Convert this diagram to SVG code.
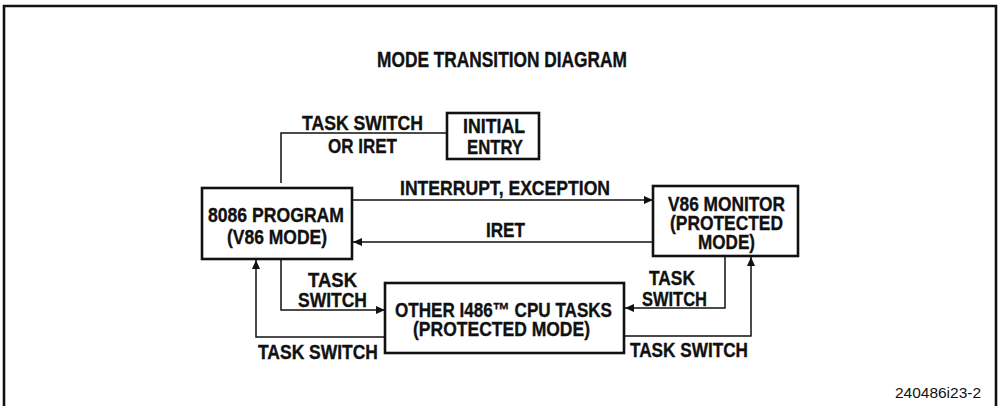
<svg xmlns="http://www.w3.org/2000/svg" width="998" height="406" viewBox="0 0 998 406">
<style>
.box{fill:#fff;stroke:#111;stroke-width:2.6}
.ln{fill:none;stroke:#111;stroke-width:1.5}
.t{font-family:"Liberation Sans",Arial,sans-serif;font-weight:bold;font-size:20px;fill:#111;stroke:#111;stroke-width:0.35;text-anchor:middle}
.n{font-family:"Liberation Sans",Arial,sans-serif;font-size:15px;fill:#111;text-anchor:middle}
</style>
<defs>
<marker id="ah" markerUnits="userSpaceOnUse" markerWidth="10" markerHeight="8" refX="9" refY="4" orient="auto">
<path d="M0,0 L9,4 L0,8 z" fill="#111"/>
</marker>
</defs>
<rect width="998" height="406" fill="#fff"/>
<path d="M4,410 V6 H996 V410" fill="none" stroke="#111" stroke-width="2.6"/>
<text class="t" x="502" y="67" style="font-size:21.5px" textLength="250" lengthAdjust="spacingAndGlyphs">MODE TRANSITION DIAGRAM</text>

<g id="connectors">
<path class="ln" d="M447,133 H281 V183"/>
<path class="ln" d="M352,200 H653" marker-end="url(#ah)"/>
<path class="ln" d="M653,242 H353" marker-end="url(#ah)"/>
<path class="ln" d="M281,259 V310 H385" marker-end="url(#ah)"/>
<path class="ln" d="M385,337 H256 V260" marker-end="url(#ah)"/>
<path class="ln" d="M725,256 V308 H625" marker-end="url(#ah)"/>
<path class="ln" d="M624,336 H751 V257" marker-end="url(#ah)"/>
<text class="t" x="362.5" y="130" textLength="121" lengthAdjust="spacingAndGlyphs">TASK SWITCH</text>
<text class="t" x="362.5" y="153" textLength="69" lengthAdjust="spacingAndGlyphs">OR IRET</text>
<text class="t" x="505" y="195" textLength="210" lengthAdjust="spacingAndGlyphs">INTERRUPT, EXCEPTION</text>
<text class="t" x="505.5" y="237" textLength="39" lengthAdjust="spacingAndGlyphs">IRET</text>
<text class="t" x="332.5" y="287" textLength="49" lengthAdjust="spacingAndGlyphs">TASK</text>
<text class="t" x="332.5" y="307" textLength="69" lengthAdjust="spacingAndGlyphs">SWITCH</text>
<text class="t" x="318" y="359" textLength="120" lengthAdjust="spacingAndGlyphs">TASK SWITCH</text>
<text class="t" x="672" y="285" textLength="46" lengthAdjust="spacingAndGlyphs">TASK</text>
<text class="t" x="674.5" y="306" textLength="65" lengthAdjust="spacingAndGlyphs">SWITCH</text>
<text class="t" x="689" y="357" textLength="118" lengthAdjust="spacingAndGlyphs">TASK SWITCH</text>
</g>

<g id="initial-entry">
<rect class="box" x="447" y="113" width="92" height="46"/>
<text class="t" x="494" y="133" textLength="62" lengthAdjust="spacingAndGlyphs">INITIAL</text>
<text class="t" x="495" y="154" textLength="56" lengthAdjust="spacingAndGlyphs">ENTRY</text>
</g>

<g id="program-8086">
<rect class="box" x="202" y="188" width="150" height="71"/>
<text class="t" x="276" y="222" textLength="136" lengthAdjust="spacingAndGlyphs">8086 PROGRAM</text>
<text class="t" x="277" y="244" textLength="100" lengthAdjust="spacingAndGlyphs">(V86 MODE)</text>
</g>

<g id="v86-monitor">
<rect class="box" x="653" y="186" width="145" height="70"/>
<text class="t" x="726.5" y="211" textLength="117" lengthAdjust="spacingAndGlyphs">V86 MONITOR</text>
<text class="t" x="726.5" y="230" textLength="113" lengthAdjust="spacingAndGlyphs">(PROTECTED</text>
<text class="t" x="726.5" y="249" textLength="57" lengthAdjust="spacingAndGlyphs">MODE)</text>
</g>

<g id="other-tasks">
<rect class="box" x="385" y="283" width="239" height="70"/>
<text class="t" x="503.5" y="317" textLength="217" lengthAdjust="spacingAndGlyphs">OTHER I486™ CPU TASKS</text>
<text class="t" x="501.5" y="336" textLength="177" lengthAdjust="spacingAndGlyphs">(PROTECTED MODE)</text>
</g>

<text class="n" x="938" y="398" textLength="86" lengthAdjust="spacingAndGlyphs">240486i23-2</text>
</svg>
